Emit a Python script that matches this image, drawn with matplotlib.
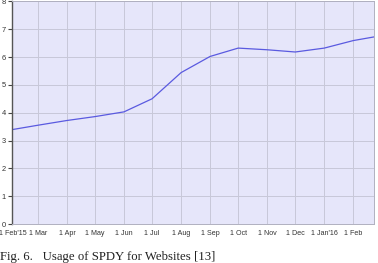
import datetime as dt
import matplotlib
matplotlib.use("Agg")
import matplotlib.pyplot as plt
import matplotlib.transforms as mtransforms

# SPDY usage (% of websites), monthly readings
dates = [dt.date(2015, 2, 1), dt.date(2015, 3, 1), dt.date(2015, 4, 1),
         dt.date(2015, 5, 1), dt.date(2015, 6, 1), dt.date(2015, 7, 1),
         dt.date(2015, 8, 1), dt.date(2015, 9, 1), dt.date(2015, 10, 1),
         dt.date(2015, 11, 1), dt.date(2015, 12, 1), dt.date(2016, 1, 1),
         dt.date(2016, 2, 1), dt.date(2016, 2, 23)]
usage = [3.39, 3.55, 3.72, 3.86, 4.03, 4.50, 5.44, 6.02, 6.32,
         6.26, 6.18, 6.32, 6.59, 6.72]

tick_dates = dates[:13]
tick_labels = ["1 Feb'15", "1 Mar", "1 Apr", "1 May", "1 Jun", "1 Jul", "1 Aug",
               "1 Sep", "1 Oct", "1 Nov", "1 Dec", "1 Jan'16", "1 Feb"]
y_ticks = [0, 1, 2, 3, 4, 5, 6, 7, 8]
caption = "Fig. 6.   Usage of SPDY for Websites [13]"

fig = plt.figure(figsize=(3.78, 2.63), dpi=100)
ax = fig.add_axes([0.031, 0.148, 0.958, 0.847])
ax.set_facecolor('#e6e6fa')

ax.plot(dates, usage, color='#5a5ae0', linewidth=0.9)

ax.set_xlim(dates[0], dates[-1])
ax.set_ylim(0, 8)
ax.set_xticks(tick_dates)
ax.set_xticklabels(tick_labels)
ax.set_yticks(y_ticks)
ax.grid(True, color='#c8c8d8', linewidth=0.7)
ax.set_axisbelow(True)

for t in ax.get_xticklabels() + ax.get_yticklabels():
    t.set_fontfamily('Liberation Sans')
    t.set_fontsize(5.4)
    t.set_color('#333333')
for t in ax.get_xticklabels():
    t.set_fontsize(5.1)
ax.tick_params(axis='x', length=0, pad=4)
ax.tick_params(axis='y', length=3, width=0.8, pad=1, color='#444444')

# first date label sits a little right of its tick, as in the original
first = ax.get_xticklabels()[0]
first.set_transform(first.get_transform() +
                    mtransforms.ScaledTranslation(1.5 / 100, 0, fig.dpi_scale_trans))

for side in ['top', 'right', 'bottom']:
    ax.spines[side].set_color('#b0b0c0')
    ax.spines[side].set_linewidth(0.7)
ax.spines['left'].set_color('#555555')
ax.spines['left'].set_linewidth(1.0)

fig.text(0.0, 1 - 251 / 263, caption, fontfamily='Liberation Serif',
         fontsize=9.2, color='#222222', va='top')

fig.savefig("out.png", dpi=100)
